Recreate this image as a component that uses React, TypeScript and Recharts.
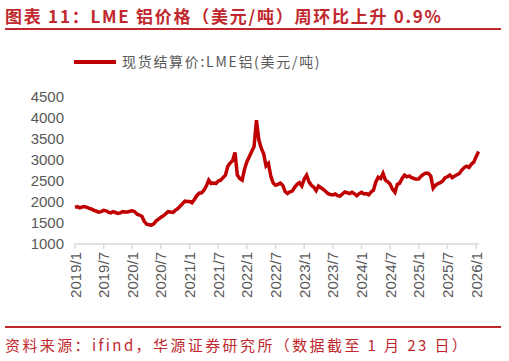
import React from 'react';
import { LineChart, Line, XAxis, YAxis } from 'recharts';

const startYear = 2019;
// Semi-monthly LME aluminium spot settlement prices (USD/t), 2019/1 .. 2026/1
const prices2019 = [1870, 1890, 1860, 1880, 1890, 1870, 1850, 1830, 1800, 1780, 1760, 1770, 1800, 1790, 1760, 1740, 1770, 1750, 1730, 1740, 1770, 1760, 1760, 1780];
const prices2020 = [1790, 1770, 1710, 1690, 1660, 1540, 1470, 1460, 1450, 1480, 1550, 1590, 1640, 1670, 1720, 1770, 1760, 1750, 1800, 1840, 1900, 1960, 2020, 2010];
const prices2021 = [2010, 1980, 2060, 2150, 2210, 2220, 2280, 2380, 2520, 2440, 2450, 2440, 2500, 2520, 2580, 2640, 2850, 2930, 2980, 3180, 2640, 2560, 2520, 2780];
const prices2022 = [2960, 3080, 3200, 3320, 3950, 3480, 3280, 3150, 2860, 2920, 2620, 2450, 2400, 2420, 2450, 2400, 2250, 2200, 2240, 2260, 2350, 2420, 2460, 2380];
const prices2023 = [2550, 2640, 2480, 2400, 2350, 2270, 2380, 2340, 2300, 2250, 2200, 2180, 2170, 2190, 2150, 2140, 2190, 2240, 2220, 2200, 2230, 2200, 2150, 2200];
const prices2024 = [2230, 2190, 2200, 2170, 2240, 2280, 2480, 2590, 2560, 2680, 2520, 2480, 2420, 2300, 2230, 2420, 2450, 2560, 2640, 2600, 2620, 2580, 2560, 2540];
const prices2025 = [2550, 2620, 2660, 2690, 2680, 2620, 2330, 2400, 2440, 2460, 2500, 2580, 2600, 2640, 2580, 2620, 2650, 2680, 2760, 2820, 2850, 2820, 2900, 2950];
const prices2026 = [3080, 3200];

const tickLabels = ['2019/1', '2019/7', '2020/1', '2020/7', '2021/1', '2021/7', '2022/1', '2022/7', '2023/1', '2023/7', '2024/1', '2024/7', '2025/1', '2025/7', '2026/1'];
const yTicks = [1000, 1500, 2000, 2500, 3000, 3500, 4000, 4500];

const seriesName = '现货结算价:LME铝(美元/吨)';
const titleText = '图表 11：LME 铝价格（美元/吨）周环比上升 0.9%';
const sourceText = '资料来源：ifind，华源证券研究所（数据截至 1 月 23 日）';

const allPrices = [...prices2019, ...prices2020, ...prices2021, ...prices2022, ...prices2023, ...prices2024, ...prices2025, ...prices2026];
const data = allPrices.map((v, i) => ({ m: i / 2, price: v }));
const tickValues = tickLabels.map((_, i) => i * 6);
const labelFor = (m: number) => {
  const idx = Math.round(m / 6);
  return tickLabels[idx] ?? `${startYear + Math.floor(m / 12)}/${(m % 12) + 1}`;
};

const RED = '#C00000';
const TEXT_RED = '#C0282D';

const XTick = (props: any) => {
  const { x, y, payload } = props;
  return (
    <text
      x={x}
      y={y}
      transform={`rotate(-90 ${x} ${y})`}
      textAnchor="end"
      dominantBaseline="central"
      fill="#595959"
      fontSize={15}
      fontFamily="'Liberation Sans', Arial, sans-serif"
    >
      {labelFor(payload.value)}
    </text>
  );
};

export default function App() {
  return (
    <div style={{ position: 'fixed', left: 0, top: 0, width: 509, height: 361, background: '#fff', overflow: 'hidden' }}>
      <div
        style={{
          position: 'absolute', left: 5, top: 3, fontFamily: "'Noto Sans CJK SC', sans-serif",
          fontWeight: 700, fontSize: 17, color: TEXT_RED, whiteSpace: 'nowrap', letterSpacing: 1.75,
        }}
      >
        {titleText}
      </div>
      <div style={{ position: 'absolute', left: 5, top: 28, width: 496, height: 2, background: TEXT_RED }} />
      <div style={{ position: 'absolute', left: 74, top: 60, width: 42, height: 4, background: RED }} />
      <div
        style={{
          position: 'absolute', left: 122, top: 51, fontFamily: "'Noto Sans CJK SC', sans-serif",
          fontSize: 14, color: '#595959', whiteSpace: 'nowrap', letterSpacing: 1.7,
        }}
      >
        {seriesName}
      </div>
      <div style={{ position: 'absolute', left: 0, top: 0 }}>
        <LineChart width={509} height={361} data={data} margin={{ top: 97, right: 30, bottom: 57, left: 10 }}>
          <XAxis
            dataKey="m"
            type="number"
            domain={[0, 84.6]}
            ticks={tickValues}
            interval={0}
            height={60}
            tick={<XTick />}
            tickSize={5}
            tickMargin={3}
            axisLine={{ stroke: '#D9D9D9', strokeWidth: 1.5 }}
            tickLine={{ stroke: '#D9D9D9', strokeWidth: 1.5 }}
          />
          <YAxis
            type="number"
            domain={[1000, 4500]}
            ticks={yTicks}
            interval={0}
            width={65}
            axisLine={false}
            tickLine={false}
            tickSize={8}
            tickMargin={3}
            tick={{ fill: '#595959', fontSize: 15, fontFamily: "'Liberation Sans', Arial, sans-serif" }}
          />
          <Line
            type="linear"
            dataKey="price"
            stroke={RED}
            strokeWidth={3.5}
            dot={false}
            isAnimationActive={false}
          />
        </LineChart>
      </div>
      <div style={{ position: 'absolute', left: 5, top: 326, width: 496, height: 2, background: TEXT_RED }} />
      <div
        style={{
          position: 'absolute', left: 5, top: 334, fontFamily: "'Noto Sans CJK SC', sans-serif",
          fontSize: 15, color: TEXT_RED, whiteSpace: 'nowrap', letterSpacing: 2.4,
        }}
      >
        {sourceText}
      </div>
    </div>
  );
}
